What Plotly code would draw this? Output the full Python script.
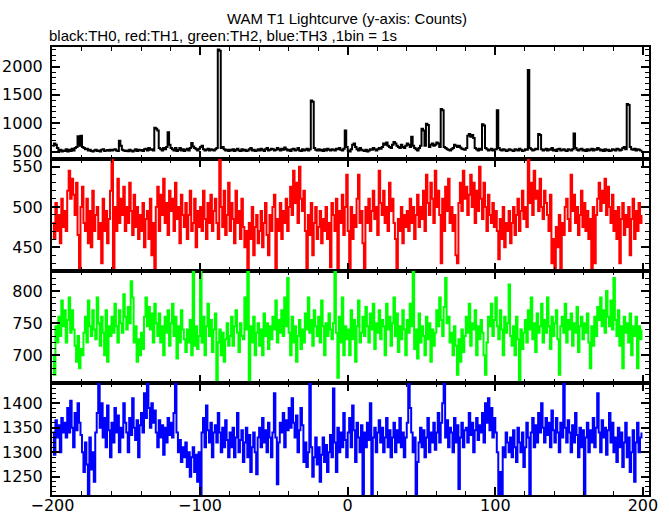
import plotly.graph_objects as go
from plotly.subplots import make_subplots

time_s = list(range(-200, 200))

th0 = [
    600, 640, 620, 560, 520, 530, 500, 520, 510, 540,
    500, 530, 510, 550, 520, 560, 580, 770, 600, 780,
    580, 560, 540, 550, 520, 530, 510, 500, 520, 530,
    510, 520, 500, 530, 540, 510, 520, 525, 515, 530,
    520, 530, 540, 520, 510, 690, 600, 530, 520, 510,
    520, 505, 530, 515, 500, 520, 540, 510, 530, 520,
    525, 510, 540, 550, 520, 560, 530, 540, 520, 920,
    900, 870, 560, 540, 520, 560, 540, 580, 840, 620,
    560, 540, 520, 560, 510, 530, 560, 520, 540, 510,
    530, 550, 520, 560, 650, 590, 560, 540, 520, 550,
    580, 600, 540, 520, 530, 550, 520, 540, 530, 520,
    540, 560, 2300, 2280, 560, 580, 540, 520, 530, 510,
    530, 520, 540, 510, 530, 550, 520, 510, 540, 520,
    530, 510, 520, 540, 560, 520, 530, 510, 520, 540,
    520, 550, 530, 510, 540, 560, 520, 530, 550, 540,
    520, 530, 560, 540, 520, 550, 530, 570, 540, 520,
    530, 510, 540, 550, 520, 530, 560, 520, 510, 540,
    520, 530, 550, 520, 540, 1400, 1380, 560, 530, 520,
    540, 520, 530, 510, 540, 520, 550, 530, 520, 540,
    530, 520, 550, 540, 560, 530, 520, 550, 870, 580,
    520, 500, 540, 620, 640, 580, 540, 520, 560, 530,
    520, 510, 530, 500, 520, 540, 530, 560, 540, 520,
    540, 560, 550, 580, 640, 620, 660, 600, 580, 560,
    620, 670, 640, 600, 580, 560, 620, 580, 560, 600,
    640, 620, 580, 760, 600, 560, 540, 520, 560, 600,
    900, 870, 600, 990, 970, 580, 620, 640, 600, 620,
    660, 640, 580, 1250, 1230, 580, 560, 540, 530, 520,
    540, 560, 620, 600, 580, 600, 570, 550, 540, 530,
    560, 780, 810, 760, 790, 740, 560, 540, 520, 550,
    530, 980, 960, 560, 540, 520, 530, 550, 520, 530,
    540, 1230, 560, 530, 520, 540, 530, 510, 520, 540,
    530, 520, 510, 540, 530, 520, 550, 530, 510, 520,
    540, 530, 1940, 560, 540, 520, 530, 550, 540, 810,
    790, 540, 520, 530, 550, 520, 540, 530, 560, 520,
    530, 510, 540, 550, 520, 530, 540, 520, 510, 540,
    530, 520, 540, 820, 560, 530, 520, 540, 550, 520,
    530, 510, 540, 520, 530, 550, 520, 540, 530, 560,
    540, 520, 530, 510, 540, 520, 530, 510, 520, 540,
    530, 520, 550, 540, 520, 530, 560, 580, 540, 1340,
    1320, 580, 540, 530, 550, 520, 540, 530, 520, 530,
]

th1 = [
    480, 460, 505, 470, 490, 455, 510, 475, 495, 470,
    520, 545, 510, 535, 515, 490, 530, 465, 420, 500,
    525, 480, 470, 510, 455, 495, 450, 520, 470, 490,
    500, 460, 480, 430, 510, 470, 495, 455, 485, 520,
    560, 420, 500, 470, 535, 480, 510, 490, 525, 470,
    500, 480, 530, 495, 465, 515, 475, 500, 460, 490,
    470, 505, 450, 485, 495, 460, 510, 440, 480, 420,
    500, 525, 470, 515, 490, 535, 480, 505, 465, 520,
    495, 510, 470, 530, 485, 500, 455, 515, 490, 475,
    505, 460, 490, 520, 470, 480, 510, 450, 495, 475,
    500, 470, 520, 485, 460, 505, 480, 515, 470, 495,
    510, 480, 460, 560, 500, 475, 520, 465, 490, 530,
    470, 505, 485, 455, 520, 480, 495, 460, 510, 475,
    450, 470, 420, 480, 460, 500, 440, 475, 490, 455,
    470, 495, 450, 480, 505, 465, 440, 490, 470, 500,
    515, 420, 485, 470, 505, 460, 495, 480, 510, 470,
    500, 525, 490, 545, 505, 530, 480, 550, 510, 495,
    520, 470, 420, 490, 465, 505, 440, 480, 500, 460,
    475, 495, 455, 485, 470, 500, 460, 480, 425, 505,
    490, 470, 510, 420, 495, 480, 515, 465, 500, 540,
    470, 420, 500, 460, 490, 475, 510, 540, 480, 495,
    455, 420, 500, 480, 510, 470, 495, 520, 485, 500,
    465, 545, 505, 490, 520, 480, 500, 470, 530, 495,
    510, 480, 460, 420, 485, 470, 500, 455, 490, 475,
    495, 470, 510, 480, 500, 460, 490, 515, 475, 500,
    485, 520, 470, 540, 505, 490, 530, 510, 480, 545,
    500, 520, 490, 430, 510, 470, 525, 495, 535, 480,
    500, 470, 490, 440, 430, 505, 530, 495, 545, 510,
    525, 490, 515, 540, 500, 530, 480, 520, 495, 550,
    510, 485, 530, 500, 470, 515, 490, 480, 505, 475,
    495, 470, 435, 485, 460, 500, 450, 480, 470, 495,
    455, 480, 500, 465, 490, 510, 470, 495, 520, 485,
    500, 475, 560, 505, 530, 490, 545, 510, 520, 495,
    535, 500, 485, 520, 505, 490, 470, 515, 430, 460,
    420, 475, 450, 490, 420, 480, 465, 500, 510, 485,
    470, 540, 495, 515, 480, 500, 465, 490, 520, 475,
    505, 470, 495, 460, 485, 420, 500, 430, 490, 510,
    530, 495, 520, 505, 535, 490, 525, 500, 480, 515,
    470, 495, 460, 500, 430, 485, 505, 465, 490, 475,
    500, 440, 485, 510, 460, 495, 470, 505, 480, 490,
]

th2 = [
    700, 670, 745, 720, 760, 730, 785, 745, 770, 720,
    755, 790, 735, 770, 740, 715, 690, 730, 680, 710,
    700, 735, 760, 720, 785, 745, 730, 770, 740, 725,
    790, 750, 715, 760, 735, 700, 770, 690, 745, 730,
    760, 735, 780, 745, 720, 770, 750, 735, 795, 760,
    740, 775, 750, 815, 790, 720, 745, 690, 725, 700,
    735, 710, 760, 790, 745, 775, 740, 765, 720, 780,
    750, 730, 765, 720, 745, 700, 760, 735, 770, 715,
    750, 780, 730, 760, 695, 745, 720, 770, 740, 725,
    705, 740, 720, 755, 700, 830, 715, 745, 710, 730,
    830, 720, 760, 700, 745, 780, 730, 755, 705, 740,
    765, 660, 720, 740, 700, 735, 690, 725, 750, 715,
    730, 760, 715, 745, 770, 735, 705, 750, 730, 725,
    790, 740, 830, 660, 745, 720, 760, 700, 735, 750,
    715, 740, 700, 765, 730, 750, 710, 745, 725, 760,
    740, 785, 720, 755, 735, 770, 730, 790, 745, 820,
    735, 700, 760, 720, 745, 690, 730, 755, 710, 740,
    720, 765, 740, 790, 735, 755, 715, 770, 745, 730,
    760, 720, 785, 745, 700, 750, 730, 765, 740, 725,
    750, 830, 735, 665, 760, 720, 790, 700, 745, 725,
    740, 700, 770, 725, 755, 690, 745, 785, 720, 735,
    760, 730, 775, 745, 720, 765, 740, 780, 710, 750,
    735, 770, 725, 755, 745, 700, 780, 740, 760, 715,
    750, 790, 730, 765, 705, 745, 725, 770, 740, 700,
    755, 735, 780, 745, 830, 710, 740, 695, 765, 720,
    745, 730, 700, 760, 725, 750, 690, 740, 715, 735,
    770, 745, 790, 755, 730, 775, 820, 750, 760, 720,
    735, 700, 745, 715, 670, 725, 690, 740, 705, 730,
    760, 735, 780, 715, 750, 740, 770, 700, 745, 725,
    755, 735, 700, 670, 720, 760, 745, 780, 730, 755,
    790, 745, 725, 770, 740, 700, 760, 735, 750, 810,
    730, 715, 745, 700, 760, 725, 660, 740, 710, 735,
    755, 720, 770, 740, 790, 725, 750, 705, 765, 735,
    745, 780, 720, 755, 735, 790, 745, 710, 760, 730,
    750, 770, 725, 670, 745, 760, 735, 780, 720, 755,
    740, 765, 715, 750, 735, 775, 705, 745, 760, 725,
    750, 735, 765, 720, 680, 745, 715, 760, 730, 775,
    755, 790, 745, 770, 735, 800, 760, 745, 785, 740,
    820, 755, 730, 770, 715, 745, 680, 760, 735, 750,
    720, 765, 700, 745, 730, 760, 680, 745, 725, 740,
]

th3 = [
    1340, 1295, 1365, 1330, 1355, 1300, 1370, 1340, 1360, 1330,
    1390, 1340, 1405, 1350, 1310, 1380, 1345, 1400, 1360, 1335,
    1300, 1260, 1320, 1275, 1213, 1330, 1265, 1300, 1240, 1340,
    1380, 1440, 1350, 1400, 1330, 1370, 1310, 1395, 1345, 1290,
    1360, 1320, 1390, 1340, 1375, 1300, 1350, 1330, 1400, 1360,
    1340, 1300, 1370, 1335, 1410, 1350, 1325, 1365, 1290, 1355,
    1380, 1340, 1420, 1370, 1440, 1390, 1350, 1400, 1360, 1385,
    1340, 1310, 1365, 1330, 1355, 1295, 1350, 1320, 1370, 1335,
    1360, 1330, 1380, 1440, 1340, 1300, 1325, 1280, 1310, 1290,
    1320, 1270, 1300, 1250, 1290, 1310, 1260, 1295, 1240, 1300,
    1213, 1340, 1370, 1310, 1395, 1345, 1320, 1360, 1290, 1340,
    1355, 1320, 1380, 1340, 1300, 1350, 1310, 1365, 1325, 1290,
    1340, 1310, 1350, 1290, 1330, 1380, 1300, 1325, 1345, 1280,
    1320, 1350, 1290, 1335, 1260, 1310, 1340, 1300, 1255, 1330,
    1350, 1310, 1370, 1320, 1345, 1300, 1360, 1330, 1290, 1340,
    1420, 1330, 1235, 1320, 1360, 1340, 1380, 1310, 1365, 1345,
    1390, 1350, 1410, 1360, 1330, 1375, 1300, 1345, 1390, 1355,
    1280, 1320, 1270, 1300, 1440, 1310, 1250, 1290, 1330, 1275,
    1310, 1240, 1295, 1330, 1280, 1315, 1260, 1300, 1335, 1290,
    1430, 1320, 1260, 1350, 1300, 1340, 1310, 1380, 1325, 1290,
    1340, 1370, 1310, 1395, 1345, 1280, 1360, 1330, 1300, 1355,
    1215, 1340, 1310, 1360, 1325, 1400, 1215, 1330, 1350, 1300,
    1340, 1365, 1320, 1350, 1300, 1330, 1370, 1310, 1345, 1290,
    1330, 1360, 1300, 1345, 1320, 1370, 1310, 1340, 1290, 1330,
    1360, 1440, 1390, 1340, 1300, 1330, 1215, 1280, 1320, 1350,
    1310, 1345, 1290, 1330, 1370, 1300, 1340, 1320, 1360, 1305,
    1340, 1380, 1320, 1360, 1400, 1440, 1330, 1365, 1310, 1350,
    1340, 1300, 1370, 1320, 1355, 1225, 1330, 1360, 1310, 1345,
    1350, 1320, 1380, 1335, 1360, 1300, 1345, 1370, 1325, 1355,
    1340, 1380, 1320, 1400, 1360, 1410, 1345, 1390, 1330, 1370,
    1340, 1300, 1215, 1260, 1215, 1310, 1290, 1340, 1320, 1300,
    1330, 1290, 1345, 1310, 1280, 1350, 1320, 1300, 1340, 1270,
    1310, 1360, 1330, 1215, 1340, 1370, 1310, 1355, 1320, 1380,
    1340, 1400, 1350, 1320, 1370, 1335, 1360, 1310, 1385, 1345,
    1320, 1370, 1340, 1300, 1360, 1330, 1440, 1350, 1320, 1365,
    1340, 1300, 1355, 1320, 1380, 1335, 1290, 1350, 1310, 1345,
    1215, 1330, 1360, 1300, 1345, 1320, 1370, 1310, 1350, 1420,
    1340, 1300, 1365, 1330, 1350, 1295, 1345, 1380, 1320, 1360,
    1300, 1330, 1280, 1350, 1310, 1340, 1270, 1320, 1360, 1290,
    1330, 1260, 1300, 1345, 1240, 1320, 1360, 1300, 1330, 1340,
]

assert len(th0) == len(th1) == len(th2) == len(th3) == len(time_s)

series = [th0, th1, th2, th3]
colors = ["#000000", "#ff0000", "#00ff00", "#0000ff"]
widths = [2.0, 2.0, 2.0, 2.0]
y_ranges = [[368, 2344], [420.4, 559.5], [657, 831], [1213, 1441]]
y_major = [500, 50, 50, 50]
y_minor = [100, 10, 10, 10]

fig = make_subplots(rows=4, cols=1, shared_xaxes=True, vertical_spacing=0)

for i, vals in enumerate(series):
    fig.add_trace(
        go.Scatter(x=time_s, y=vals, mode="lines",
                   line=dict(color=colors[i], width=widths[i], shape="hv"),
                   showlegend=False, hoverinfo="skip"),
        row=i + 1, col=1)
    fig.update_yaxes(range=y_ranges[i], dtick=y_major[i], tick0=0,
                     ticks="inside", ticklen=8, tickwidth=2, tickcolor="black",
                     minor=dict(dtick=y_minor[i], tick0=0, ticks="inside", ticklen=4,
                                tickwidth=1, tickcolor="black"),
                     showline=True, linecolor="black", linewidth=2, mirror="allticks",
                     showgrid=False, zeroline=False, automargin=False,
                     ticklabelstandoff=4,
                     tickfont=dict(family="DejaVu Sans", size=16, color="black"),
                     row=i + 1, col=1)
    fig.update_xaxes(range=[-200.3, 204.1], dtick=100, tick0=0,
                     ticks="inside", ticklen=8, tickwidth=2, tickcolor="black",
                     minor=dict(dtick=20, tick0=0, ticks="inside", ticklen=4,
                                tickwidth=1, tickcolor="black"),
                     showline=True, linecolor="black", linewidth=2, mirror="allticks",
                     showgrid=False, zeroline=False, automargin=False,
                     ticklabelstandoff=-5,
                     tickfont=dict(family="DejaVu Sans", size=16, color="black"),
                     row=i + 1, col=1)

fig.add_annotation(text="WAM T1 Lightcurve (y-axis: Counts)", xref="paper", yref="paper",
                   x=0.494, y=1.0647, xanchor="center", yanchor="middle", showarrow=False,
                   font=dict(family="Liberation Sans", size=15, color="black"))
fig.add_annotation(text="black:TH0, red:TH1, green:TH2, blue:TH3 ,1bin = 1s", xref="paper", yref="paper",
                   x=-0.0085, y=1.0267, xanchor="left", yanchor="middle", showarrow=False,
                   font=dict(family="Liberation Sans", size=15, color="black"))

fig.update_layout(width=669, height=515, margin=dict(l=52, r=20, t=47, b=19.5),
                  plot_bgcolor="white", paper_bgcolor="white")

fig.write_html("out.html", config={"displayModeBar": False},
               post_script="document.body.style.margin='0px';")
